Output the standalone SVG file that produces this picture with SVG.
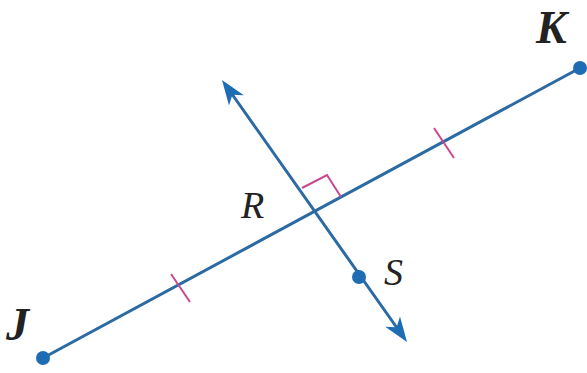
<svg xmlns="http://www.w3.org/2000/svg" width="587" height="373" viewBox="0 0 587 373">
<style>
.ln{stroke:#2b6aa3;stroke-width:3;fill:none;stroke-linecap:round}
.pk{stroke:#c9478e;stroke-width:2;fill:none}
.dot{fill:#1e6db4}
.ah{fill:#1e6db4}
.lbl{font-family:"Liberation Serif",serif;font-style:italic;font-size:38px;fill:#222}
.big{font-size:46px;font-weight:bold}
</style>
<rect width="587" height="373" fill="#fff"/>
<g id="connectors">
<line class="ln" x1="43" y1="358" x2="580" y2="68"/>
<line class="ln" x1="227" y1="87" x2="402" y2="335"/>
<path class="ah" d="M222,80 L243.8,95.2 L232.4,94.7 L229,105.6 Z"/>
<path class="ah" d="M407,342 L385.2,326.8 L396.6,327.3 L400,316.4 Z"/>
<line class="pk" x1="171" y1="274" x2="190" y2="302"/>
<line class="pk" x1="434" y1="128" x2="454" y2="158"/>
<polyline class="pk" points="302,188 327,175 341,197"/>
</g>
<g id="J"><circle class="dot" cx="43" cy="358" r="7"/><text class="lbl big" x="6" y="340">J</text></g>
<g id="K"><circle class="dot" cx="580" cy="68" r="7"/><text class="lbl big" x="536" y="43">K</text></g>
<g id="R"><text class="lbl" x="241" y="218">R</text></g>
<g id="S"><circle class="dot" cx="359" cy="277" r="7"/><text class="lbl" x="384" y="285">S</text></g>
</svg>
